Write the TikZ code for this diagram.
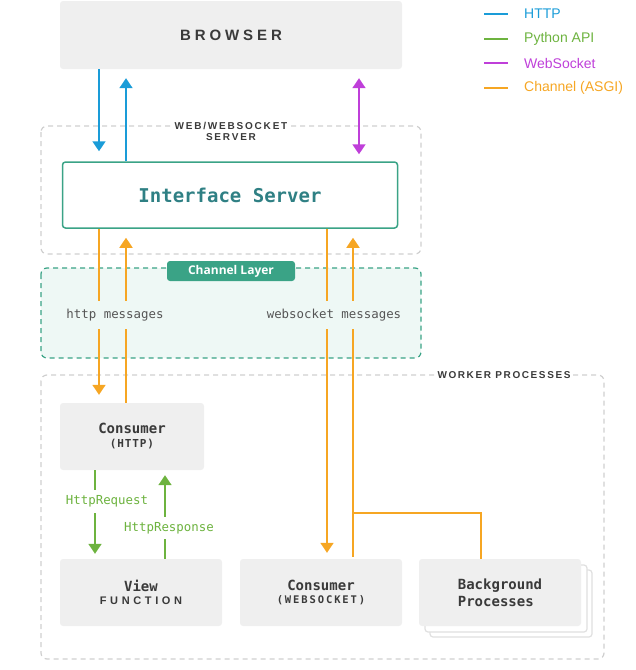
\documentclass[tikz,border=0pt]{standalone}
\usepackage{fontspec}
\setmainfont{Liberation Sans}
\setmonofont{DejaVu Sans Mono}
\newfontfamily\tagfont{Open Sans}
\usetikzlibrary{arrows.meta}

\definecolor{httpblue}{HTML}{1A9CD8}
\definecolor{apigreen}{HTML}{6DB33F}
\definecolor{wspurple}{HTML}{BF3FD9}
\definecolor{asgiorange}{HTML}{F6A623}
\definecolor{chteal}{HTML}{3AA386}
\definecolor{chfill}{HTML}{EEF8F5}
\definecolor{boxgray}{HTML}{EFEFEF}
\definecolor{dashgray}{HTML}{CFCFCF}
\definecolor{ink}{HTML}{3A3A3A}
\definecolor{ifaceink}{HTML}{2F8084}
\definecolor{msgink}{HTML}{555555}

\newcommand{\tracked}[2]{{\addfontfeatures{LetterSpace=#1}#2}}

\begin{document}
\begin{tikzpicture}[x=1pt,y=-1pt,
    box/.style={fill=boxgray, rounded corners=3pt, minimum height=67pt, inner sep=0pt, text=ink, align=center},
    zone/.style={draw=dashgray, dash pattern=on 5pt off 4pt, line width=1.2pt, rounded corners=6pt},
    zonelabel/.style={fill=white, text=ink, inner sep=3pt, align=center, font=\bfseries\fontsize{10}{11}\selectfont},
    flow/.style={line width=1.8pt, -{Triangle[width=13pt,length=10pt]}},
    msg/.style={fill=chfill, text=msgink, minimum height=28pt, inner xsep=1pt, font=\ttfamily\fontsize{12.4}{14}\selectfont},
    api/.style={fill=white, text=apigreen, inner xsep=1pt, font=\ttfamily\fontsize{12.4}{14}\selectfont},
    stack/.style={fill=white, draw=black!12, line width=1.2pt, rounded corners=3pt}]

    \useasboundingbox (0,0) rectangle (636,670);

    % column positions of the vertical connectors
    \coordinate (colA) at (99,0);
    \coordinate (colB) at (126,0);
    \coordinate (colW) at (359,0);
    \coordinate (colC) at (327,0);
    \coordinate (colD) at (353,0);
    \coordinate (colR) at (95,0);
    \coordinate (colS) at (165,0);

    % zones
    \draw[zone] (41,126) rectangle (421,254);
    \draw[zone, draw=chteal, fill=chfill] (41,268) rectangle (421,358);
    \draw[zone] (41,375) rectangle (604,659);

    % browser and interface server
    \node[box, minimum width=342pt, minimum height=68pt] (browser) at (231,35)
        {\bfseries\fontsize{15}{18}\selectfont\tracked{26}{BROWSER}};
    \node[draw=chteal, line width=1.5pt, fill=white, rounded corners=3pt, minimum width=335pt,
        minimum height=66pt, text=ifaceink, font=\ttfamily\bfseries\fontsize{19}{22}\selectfont]
        (iface) at (230,195) {Interface Server};

    % worker boxes
    \foreach \d in {11,6}
        \draw[stack] (419+\d,559+\d) rectangle (581+\d,626+\d);
    \node[box, minimum width=144pt] (chttp) at (132,436.5)
        {{\ttfamily\bfseries\fontsize{14}{15}\selectfont Consumer}\\[2pt]
         {\ttfamily\bfseries\fontsize{11}{12}\selectfont\tracked{8}{(HTTP)}}};
    \node[box, minimum width=162pt] (view) at (141,592.5)
        {{\ttfamily\bfseries\fontsize{14}{15}\selectfont View}\\[1pt]
         {\bfseries\fontsize{11}{13}\selectfont\tracked{33}{FUNCTION}}};
    \node[box, minimum width=162pt] (cws) at (321,592.5)
        {{\ttfamily\bfseries\fontsize{14}{15}\selectfont Consumer}\\[1pt]
         {\ttfamily\bfseries\fontsize{10.5}{12}\selectfont\tracked{18}{(WEBSOCKET)}}};
    \node[box, minimum width=162pt, align=left] (bgp) at (500,592.5)
        {{\ttfamily\bfseries\fontsize{14}{15}\selectfont Background}\\[3pt]
         {\ttfamily\bfseries\fontsize{14}{15}\selectfont Processes}};

    % http and websocket to the browser
    \draw[flow, httpblue, shorten >=10pt] (browser.south -| colA) -- (iface.north -| colA);
    \draw[flow, httpblue, shorten >=9pt] (iface.north -| colB) -- (browser.south -| colB);
    \draw[flow, wspurple, {Triangle[width=13pt,length=10pt]}-{Triangle[width=13pt,length=10pt]},
        shorten <=9pt, shorten >=7pt] (browser.south -| colW) -- (iface.north -| colW);

    % channels (ASGI)
    \draw[flow, asgiorange, shorten >=8pt] (iface.south -| colA) -- (chttp.north -| colA);
    \draw[flow, asgiorange, shorten >=9pt] (chttp.north -| colB) -- (iface.south -| colB);
    \draw[flow, asgiorange, shorten >=6pt] (iface.south -| colC) -- (cws.north -| colC);
    \draw[flow, asgiorange, shorten <=2pt, shorten >=9pt] (cws.north -| colD) -- (iface.south -| colD);
    \coordinate (fork) at (353,513);
    \draw[asgiorange, line width=1.8pt] (fork) -| ([xshift=-19pt]bgp.north);

    % python api
    \draw[flow, apigreen, shorten >=5pt] (chttp.south -| colR) -- (view.north -| colR);
    \draw[flow, apigreen, shorten >=5pt] (view.north -| colS) -- (chttp.south -| colS);

    % labels
    \node[zonelabel] (weblbl) at (231,131) {\tracked{18}{WEB/WEBSOCKET}\\\tracked{18}{SERVER}};
    \node[zonelabel] (worklbl) at (504,375) {\tracked{16}{WORKER PROCESSES}};
    \node[fill=chteal, text=white, rounded corners=3pt, minimum width=128pt, minimum height=20pt,
        inner sep=0pt, font=\tagfont\bfseries\fontsize{12}{14}\selectfont] (chtag) at (231,271) {Channel Layer};
    \node[msg] (httpmsg) at (115,315) {http messages};
    \node[msg] (wsmsg) at (334,315) {websocket messages};
    \node[api, minimum height=23pt] (req) at (107,501.5) {HttpRequest};
    \node[api, minimum height=22pt] (resp) at (169,528) {HttpResponse};

    % legend
    \foreach \y/\c/\t in {14/httpblue/HTTP, 39/apigreen/Python API, 63/wspurple/WebSocket, 88/asgiorange/Channel (ASGI)} {
        \node[anchor=west, inner sep=0pt, text=\c, font=\fontsize{14}{16}\selectfont] (key\y) at (524,\y) {\t};
        \draw[\c, line width=1.8pt] ([xshift=-40pt]key\y.west) -- ([xshift=-16pt]key\y.west);
    }
\end{tikzpicture}
\end{document}
